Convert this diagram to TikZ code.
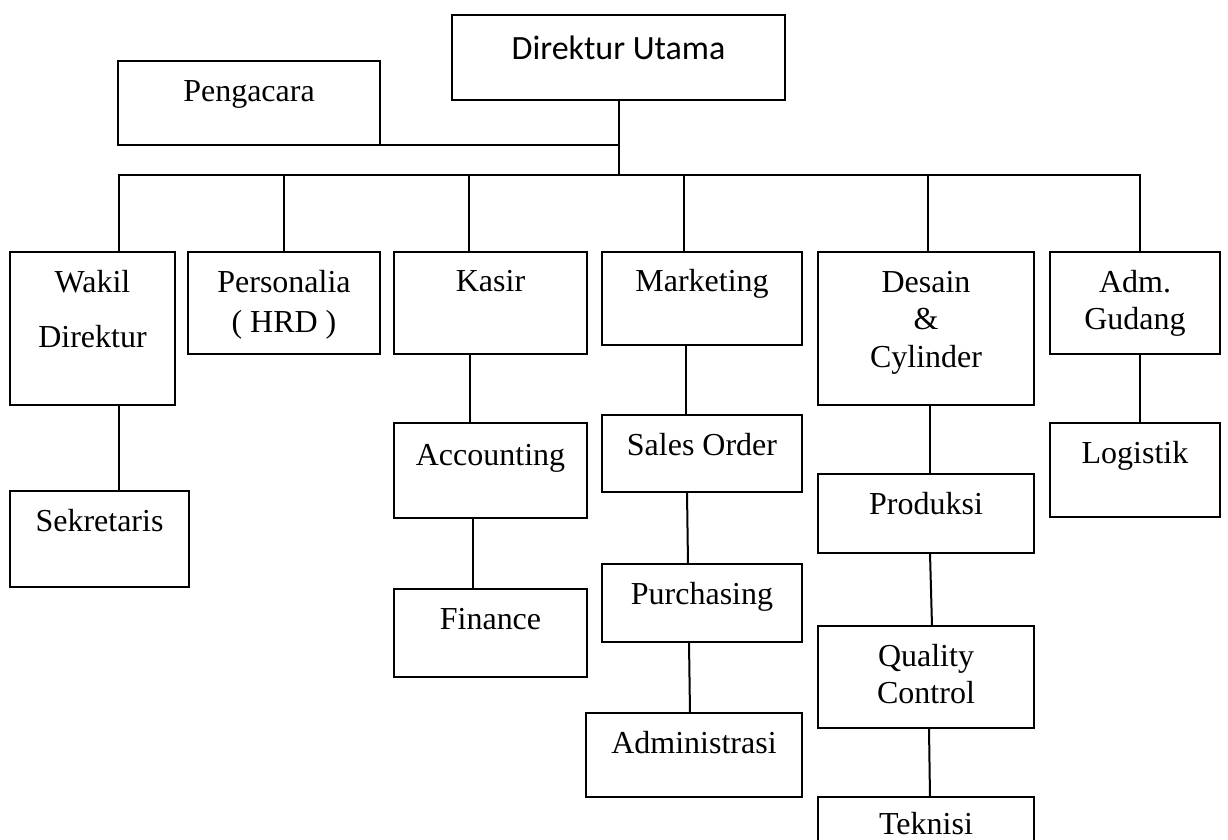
\documentclass[tikz,border=0pt]{standalone}
\usepackage{fontspec}
\setmainfont{Liberation Serif}
\newfontfamily\headfont{Carlito}
\usetikzlibrary{calc,positioning}
\tikzset{
	org chart/.style={
		x=.5pt, y=-.5pt,
		line width=1pt,
		label distance=-20pt,
		every label/.style={anchor=base, align=center, inner sep=0pt,
			font=\fontsize{16}{18.75}\selectfont}
		},
	post/.style 2 args={draw, rectangle, anchor=north west,
		inner sep=0pt, outer sep=0pt,
		minimum width=#1*.5pt, minimum height=#2*.5pt},
	post name/.style={label={north:{#1}}},
	% base of a label is its last line, so push it lower
	post name at/.style 2 args={label={[label distance=#1]north:{#2}}},
	top name/.style={label={[label distance=-22.5pt,
		font=\headfont\fontsize{17}{20}\selectfont]north:{#1}}}
}

\begin{document}
\begin{tikzpicture}[org chart]
	\clip (0,0) rectangle (1228,840);
	\node[post={333}{85}, top name=Direktur Utama] (dirut) at (452,15) {};
	\node[post={262}{84}, post name at={-20.5pt}{Pengacara}] (peng) at (118,61) {};
	% first row
	\node[post={165}{153}, post name at={-47.5pt}{Wakil\\[8.75pt]Direktur}] (wakil) at (10,252) {};
	\node[post={192}{102}, post name at={-40pt}{Personalia\\[1.25pt]( HRD )}] (pers) at (188,252) {};
	\node[post={193}{102}, post name=Kasir] (kasir) at (394,252) {};
	\node[post={200}{93}, post name=Marketing] (mkt) at (602,252) {};
	\node[post={216}{153}, post name at={-57.5pt}{Desain\\\&\\Cylinder}] (desain) at (818,252) {};
	\node[post={170}{102}, post name at={-38.75pt}{Adm.\\Gudang}] (adm) at (1050,252) {};
	% below
	\node[post={179}{96}, post name=Sekretaris] (sek) at (10,491) {};
	\node[post={193}{95}, post name at={-21pt}{Accounting}] (acc) at (394,423) {};
	\node[post={193}{88}, post name=Finance] (fin) at (394,589) {};
	\node[post={200}{77}, post name=Sales Order] (so) at (602,415) {};
	\node[post={200}{78}, post name=Purchasing] (pur) at (602,564) {};
	\node[post={216}{84}, post name=Administrasi] (admin) at (586,713) {};
	\node[post={216}{79}, post name=Produksi] (prod) at (818,474) {};
	\node[post={216}{102}, post name at={-38.75pt}{Quality\\Control}] (qc) at (818,626) {};
	\node[post={216}{80}, post name at={-18.5pt}{Teknisi}] (tek) at (818,797) {};
	\node[post={170}{94}, post name=Logistik] (log) at (1050,423) {};

	\coordinate (j1) at (119,175);
	\coordinate (j2) at (284,175);
	\coordinate (j3) at (469,175);
	\coordinate (j4) at (684,175);
	\coordinate (j5) at (928,175);
	\coordinate (j6) at (1140,175);

	\draw (dirut.south) -- (dirut.south |- j1);
	\draw (peng.south east) -- (peng.south east -| dirut.south);
	\draw (j1 |- wakil.north) -- (j1) -- (j6) -- (j6 |- adm.north);
	\foreach \j/\n in {j2/pers, j3/kasir, j4/mkt, j5/desain}
		\draw (\j) -- (\j |- \n.north);
	\foreach \a/\b/\j/\s/\e in {wakil/sek/j1/0/0, kasir/acc/j3/1/1, acc/fin/j3/4/4,
			mkt/so/j4/2/2, so/pur/j4/3/4, pur/admin/j4/5/6,
			desain/prod/j5/2/2, prod/qc/j5/2/4, qc/tek/j5/1/2, adm/log/j6/0/0}
		\draw ($(\a.south -| \j)+(\s,0)$) -- ($(\b.north -| \j)+(\e,0)$);
\end{tikzpicture}
\end{document}
